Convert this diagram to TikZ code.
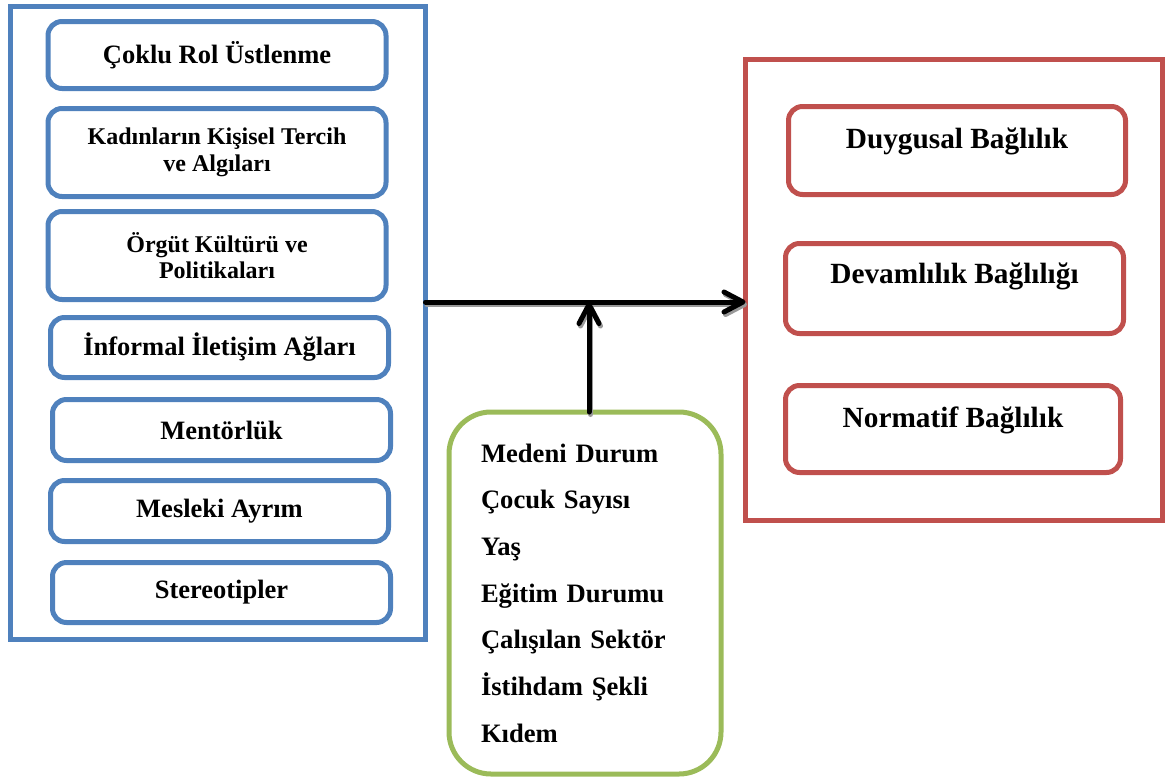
\documentclass[tikz,border=0pt]{standalone}
\usepackage{fontspec}
\setmainfont{Liberation Serif}
\usetikzlibrary{arrows.meta}
\definecolor{cblue}{HTML}{4F81BD}
\definecolor{cred}{HTML}{C0504D}
\definecolor{cgreen}{HTML}{9BBB59}
\begin{document}
\begin{tikzpicture}[x=1pt,y=-1pt,
  outerbox/.style={line width=5pt, inner sep=0pt, outer sep=0pt},
  lbox/.style={draw=cblue, line width=5pt, rounded corners=14pt, minimum width=338pt,
    inner sep=0pt, outer sep=0pt, align=center, font=\bfseries\fontsize{26.5}{30}\selectfont},
  lsmall/.style={font=\bfseries\fontsize{24}{26.7}\selectfont},
  rbox/.style={draw=cred, line width=5pt, rounded corners=14pt,
    inner sep=0pt, outer sep=0pt},
  rtext/.style={font=\bfseries\fontsize{29.3}{33}\selectfont},
  gbox/.style={draw=cgreen, line width=5pt, rounded corners=42pt, minimum width=272pt,
    minimum height=362pt, text width=208pt, inner xsep=32pt, inner ysep=0pt, outer sep=0pt,
    align=left, font=\bfseries\fontsize{26.6}{46.7}\selectfont},
  conn/.style={draw=black, line width=5pt, line cap=round,
    -{Straight Barb[length=19pt,width=20pt,line cap=round,line join=round]}},
  connshadow/.style={draw=black!40, line width=5pt, line cap=round,
    -{Straight Barb[length=19pt,width=20pt,line cap=round,line join=round]}}
]
\useasboundingbox (0,0) rectangle (1167,780);

% outer frames
\node[outerbox, draw=cblue, minimum width=415pt, minimum height=633pt] (L) at (218,323) {};
\node[outerbox, draw=cred, minimum width=417pt, minimum height=461pt] (R) at (954,290) {};

% left boxes
\node[lbox, minimum height=67pt] (l1) at (217,55) {Çoklu Rol Üstlenme};
\node[lbox, lsmall, minimum height=88pt] (l2) at (217,152.5) {Kadınların Kişisel Tercih\\ve Algıları};
\node[lbox, lsmall, minimum height=88pt] (l3) at (217,255.5) {Örgüt Kültürü ve\\Politikaları};
\node[lbox, minimum height=60pt] (l4) at (219.5,347.5) {İnformal İletişim Ağları};
\node[lbox, minimum height=61pt] (l5) at (221.5,430) {Mentörlük};
\node[lbox, minimum height=61pt] (l6) at (219.5,511) {Mesleki Ayrım};
\node[lbox, minimum height=60pt] (l7) at (221.5,592.5) {Stereotipler};

% right boxes
\node[rbox, minimum width=337pt, minimum height=88pt,
  label={[rtext, yshift=9pt]center:Duygusal Bağlılık}] (r1) at (957,150.5) {};
\node[rbox, minimum width=338pt, minimum height=90pt,
  label={[rtext, yshift=12pt]center:Devamlılık Bağlılığı}] (r2) at (954.5,288.5) {};
\node[rbox, minimum width=335pt, minimum height=87pt,
  label={[rtext, yshift=9pt]center:Normatif Bağlılık}] (r3) at (953,429) {};

% green box
\node[gbox] (G) at (585,593) {Medeni Durum\\Çocuk Sayısı\\Yaş\\Eğitim Durumu\\Çalışılan Sektör\\İstihdam Şekli\\Kıdem};

% connectors
\coordinate (J) at (589,302);
\draw[connshadow] ([shift={(1.5,2.5)}]L.east |- J) -- ([shift={(1.5,2.5)}]R.west |- J);
\draw[connshadow] ([shift={(1.5,2.5)}]G.north -| J) -- ([shift={(1.5,2.5)}]J);
\draw[conn] (L.east |- J) -- (R.west |- J);
\draw[conn] (G.north -| J) -- (J);
\end{tikzpicture}
\end{document}
